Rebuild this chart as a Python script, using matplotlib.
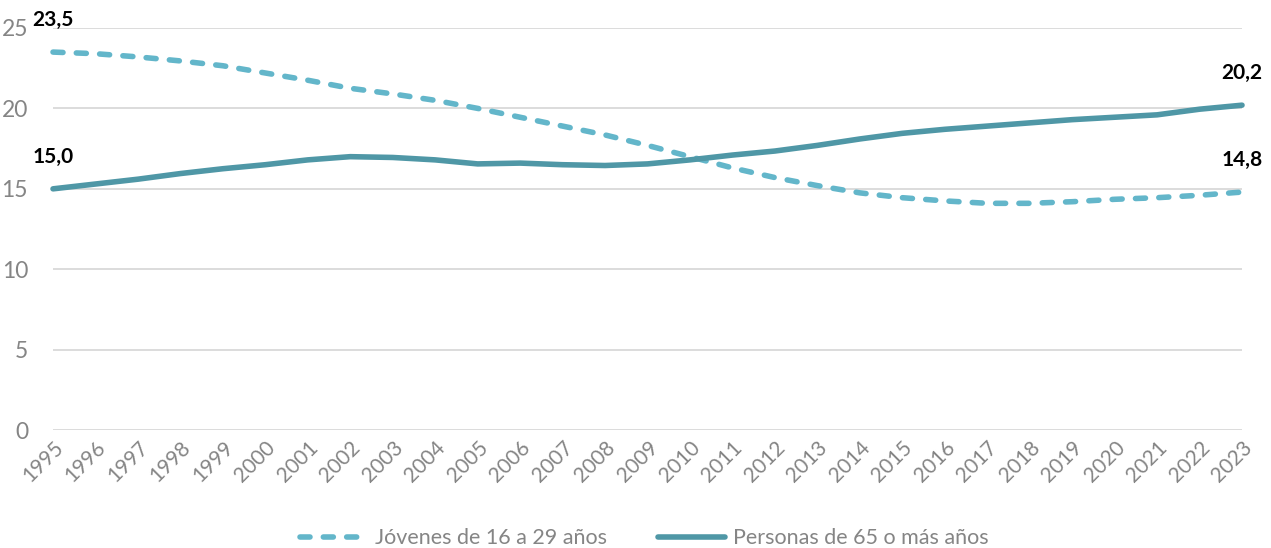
import matplotlib.pyplot as plt
from matplotlib.lines import Line2D

years = list(range(1995, 2024))
jovenes = [23.5, 23.4, 23.2, 22.95, 22.65, 22.2, 21.75, 21.25, 20.9, 20.5,
           20.0, 19.45, 18.9, 18.35, 17.7, 17.0, 16.3, 15.7, 15.2, 14.75,
           14.45, 14.25, 14.1, 14.1, 14.2, 14.35, 14.45, 14.6, 14.8]
mayores = [15.0, 15.3, 15.6, 15.95, 16.25, 16.5, 16.8, 17.0, 16.95, 16.8,
           16.55, 16.6, 16.5, 16.45, 16.55, 16.8, 17.1, 17.35, 17.7, 18.1,
           18.45, 18.7, 18.9, 19.1, 19.3, 19.45, 19.6, 19.95, 20.2]
labels = ["Jóvenes de 16 a 29 años", "Personas de 65 o más años"]
yticks = [0, 5, 10, 15, 20, 25]

c_jov = "#63b6ca"
c_may = "#4f97a6"
grey = "#858585"

plt.rcParams['font.family'] = ['Lato', 'DejaVu Sans']

fig = plt.figure(figsize=(12.71, 5.48), dpi=100)
ax = fig.add_axes([0.0417, 0.215, 0.9355, 0.734])

lw = 4.0
dash = (0, (1.8, 2.4))
ax.plot(years, jovenes, color=c_jov, lw=lw, dash_capstyle='round',
        linestyle=dash, clip_on=False, zorder=3)
ax.plot(years, mayores, color=c_may, lw=lw, solid_capstyle='round',
        clip_on=False, zorder=3)

ax.set_xlim(years[0], years[-1])
ax.set_ylim(0, 25)
ax.set_yticks(yticks)
ax.set_yticklabels([str(t) for t in yticks])
ax.set_xticks(years)
ax.set_xticklabels([str(y) for y in years], rotation=45, ha='right',
                   rotation_mode='anchor')

ax.grid(axis='y', color='#d9d9d9', lw=1.3)
ax.set_axisbelow(True)
for s in ax.spines.values():
    s.set_visible(False)
ax.tick_params(axis='y', length=0, pad=18, labelsize=16.5, labelcolor=grey)
ax.tick_params(axis='x', length=0, pad=5, labelsize=15, labelcolor=grey)

# end-point value labels
for series in (jovenes, mayores):
    for i in (0, -1):
        ax.annotate(f"{series[i]:.1f}".replace('.', ','), (years[i], series[i]),
                    xytext=(0, 23), textcoords='offset points',
                    ha='center', va='center', fontsize=15, fontweight='bold',
                    color='black', annotation_clip=False)

handles = [Line2D([], [], color=c_jov, lw=lw, dash_capstyle='round',
                  linestyle=dash),
           Line2D([], [], color=c_may, lw=lw, solid_capstyle='round')]
leg = fig.legend(handles, labels, loc='center', bbox_to_anchor=(0.507, 0.018),
                 ncol=2, frameon=False, fontsize=15.5, handlelength=3.1,
                 handletextpad=0.35, columnspacing=2.4)
for t in leg.get_texts():
    t.set_color(grey)

fig.savefig("out.png", dpi=100)
